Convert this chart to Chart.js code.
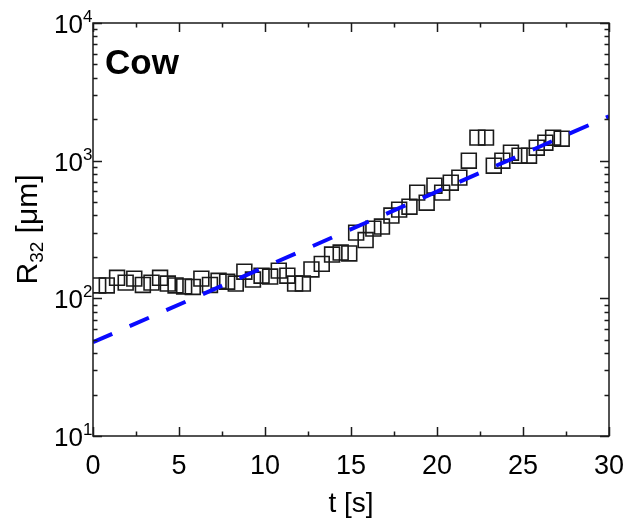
<!DOCTYPE html>
<html>
<head>
<meta charset="utf-8">
<script src="https://cdn.jsdelivr.net/npm/chart.js@4/dist/chart.umd.min.js"></script>
<style>
  html, body { margin: 0; padding: 0; background: #fff; }
  canvas { display: block; }
</style>
</head>
<body>
<canvas id="r32Chart" width="624" height="518"></canvas>
<script>
// Sauter mean radius over time
const times = [0.3, 0.8, 1.4, 1.9, 2.4, 2.9, 3.4, 3.9, 4.35, 4.8, 5.3, 5.8, 6.3, 6.8,
  7.3, 7.8, 8.3, 8.8, 9.3, 9.8, 10.3, 10.8, 11.3, 11.75, 12.2, 12.7, 13.3, 13.9,
  14.4, 14.9, 15.3, 15.85, 16.3, 16.8, 17.35, 17.8, 18.4, 18.85, 19.4, 19.85,
  20.3, 20.8, 21.3, 21.85, 22.35, 22.85, 23.3, 23.8, 24.3, 24.8, 25.35, 25.8,
  26.3, 26.75, 27.25];
const r32 = [124, 124, 141, 130, 139, 125, 130, 141, 128, 124, 122, 121, 139, 125,
  134, 132, 128, 156, 137, 146, 144, 159, 146, 128, 128, 162, 178, 208,
  215, 212, 300, 265, 321, 332, 399, 441, 463, 586, 495, 658,
  586, 692, 753, 1000, 1470, 1470, 920, 1000, 1143, 1087, 1087, 1243,
  1351, 1469, 1445];

// exponential fit, end points
const fitT = [0, 30];
const fitR = [48, 2100];

const xTicks = [0, 5, 10, 15, 20, 25, 30];
const yDecades = [1, 2, 3, 4];

const FONT = '"Liberation Sans", Arial, sans-serif';

const framePlugin = {
  id: 'frame',
  afterDraw(chart) {
    const ctx = chart.ctx;
    const a = chart.chartArea;
    const xs = chart.scales.x, ys = chart.scales.y;
    ctx.save();
    ctx.strokeStyle = '#1a1a1a';
    ctx.lineWidth = 1.5;
    ctx.strokeRect(a.left, a.top, a.right - a.left, a.bottom - a.top);

    // x ticks (inside, top and bottom)
    ctx.beginPath();
    for (let v = 0; v <= 30; v += 2.5) {
      const px = Math.round(xs.getPixelForValue(v)) + 0.5;
      const len = v % 5 === 0 ? 9 : 4.5;
      ctx.moveTo(px, a.bottom); ctx.lineTo(px, a.bottom - len);
      ctx.moveTo(px, a.top); ctx.lineTo(px, a.top + len);
    }
    // y ticks (log, inside, left and right)
    for (let d = 1; d <= 4; d++) {
      for (let m = 1; m <= 9; m++) {
        if (d === 4 && m > 1) break;
        const py = Math.round(ys.getPixelForValue(m * Math.pow(10, d))) + 0.5;
        const len = m === 1 ? 9 : 4.5;
        ctx.moveTo(a.left, py); ctx.lineTo(a.left + len, py);
        ctx.moveTo(a.right, py); ctx.lineTo(a.right - len, py);
      }
    }
    ctx.stroke();

    ctx.fillStyle = '#000';
    // x tick labels
    ctx.font = '27px ' + FONT;
    ctx.textAlign = 'center';
    ctx.textBaseline = 'alphabetic';
    xTicks.forEach(v => {
      ctx.fillText(String(v), xs.getPixelForValue(v), a.bottom + 38);
    });

    // y tick labels 10^n
    yDecades.forEach(d => {
      const py = ys.getPixelForValue(Math.pow(10, d));
      ctx.font = '26px ' + FONT;
      ctx.textAlign = 'right';
      ctx.textBaseline = 'alphabetic';
      ctx.fillText('10', a.left - 10, py + 10);
      ctx.font = '17px ' + FONT;
      ctx.textAlign = 'left';
      ctx.fillText(String(d), a.left - 10, py - 1);
    });

    // x title
    ctx.font = '28px ' + FONT;
    ctx.textAlign = 'center';
    ctx.fillText('t [s]', (a.left + a.right) / 2, a.bottom + 76);

    // y title, rotated, with subscript
    ctx.save();
    ctx.translate(37, (a.top + a.bottom) / 2);
    ctx.rotate(-Math.PI / 2);
    const big = '30px ' + FONT, small = '19px ' + FONT;
    ctx.font = big; const wR = ctx.measureText('R').width;
    ctx.font = small; const wSub = ctx.measureText('32').width;
    ctx.font = big; const wRest = ctx.measureText(' [\u03bcm]').width;
    let x0 = -(wR + wSub + wRest) / 2;
    ctx.textAlign = 'left';
    ctx.font = big; ctx.fillText('R', x0, 0); x0 += wR;
    ctx.font = small; ctx.fillText('32', x0, 6); x0 += wSub;
    ctx.font = big; ctx.fillText(' [\u03bcm]', x0, 0);
    ctx.restore();

    // panel label
    ctx.font = 'bold 35px ' + FONT;
    ctx.textAlign = 'left';
    ctx.fillText('Cow', a.left + 12, a.top + 51);
    ctx.restore();
  }
};

new Chart(document.getElementById('r32Chart'), {
  data: {
    datasets: [
      {
        type: 'line',
        label: 'fit',
        data: fitT.map((t, i) => ({ x: t, y: fitR[i] })),
        borderColor: '#0a0aff',
        borderWidth: 4,
        borderDash: [21, 19],
        pointRadius: 0,
        fill: false,
        order: 0
      },
      {
        type: 'scatter',
        label: 'R32',
        data: times.map((t, i) => ({ x: t, y: r32[i] })),
        pointStyle: 'rect',
        pointRadius: 10.5,
        borderColor: '#1a1a1a',
        borderWidth: 1.6,
        backgroundColor: 'rgba(0,0,0,0)',
        order: 1
      }
    ]
  },
  options: {
    responsive: false,
    animation: false,
    devicePixelRatio: 1,
    layout: { padding: { left: 93, right: 15, top: 23, bottom: 82 } },
    plugins: { legend: { display: false }, tooltip: { enabled: false } },
    scales: {
      x: { type: 'linear', min: 0, max: 30, display: false },
      y: { type: 'logarithmic', min: 10, max: 10000, display: false }
    }
  },
  plugins: [framePlugin]
});
</script>
</body>
</html>
